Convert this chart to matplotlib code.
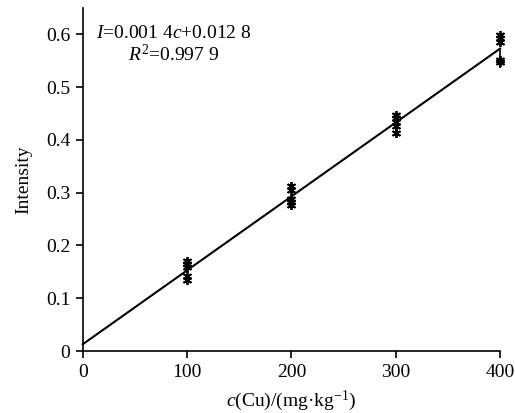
import numpy as np
import matplotlib
matplotlib.use("Agg")
import matplotlib.pyplot as plt

plt.rcParams['font.family'] = ['Liberation Serif', 'DejaVu Serif']
plt.rcParams['mathtext.fontset'] = 'custom'
plt.rcParams['mathtext.rm'] = 'Liberation Serif'
plt.rcParams['mathtext.it'] = 'Liberation Serif:italic'

concentrations = [100, 200, 300, 400]
intensity_100 = [0.170, 0.165, 0.160, 0.142, 0.135]
intensity_200 = [0.312, 0.305, 0.288, 0.282, 0.276]
intensity_300 = [0.448, 0.441, 0.434, 0.426, 0.413]
intensity_400 = [0.598, 0.592, 0.585, 0.552, 0.547]
slope = 0.0014
intercept = 0.0128
x_ticks = [0, 100, 200, 300, 400]
y_ticks = [0, 0.1, 0.2, 0.3, 0.4, 0.5, 0.6]
y_tick_labels = ["0", "0.1", "0.2", "0.3", "0.4", "0.5", "0.6"]

fig = plt.figure(figsize=(5.15, 4.13), dpi=100)
ax = fig.add_axes([0.1606, 0.150, 0.8104, 0.831])

groups = [intensity_100, intensity_200, intensity_300, intensity_400]
for c, vals in zip(concentrations, groups):
    ax.plot([c] * len(vals), vals, linestyle='none', marker=(6, 2, 0),
            markersize=6.5, markeredgewidth=1.3, color='black', clip_on=False)

xfit = np.array([0, 400])
ax.plot(xfit, slope * xfit + intercept, color='black', lw=1.5, clip_on=False)
ax.vlines(400, min(intensity_400) - 0.01, slope * 400 + intercept,
          color='black', lw=1.2, clip_on=False)

ax.set_xlim(0, 400)
ax.set_ylim(0, 0.65)
ax.set_xticks(x_ticks)
ax.set_yticks(y_ticks)
ax.set_yticklabels(y_tick_labels)
for s in ['top', 'right']:
    ax.spines[s].set_visible(False)
for s in ['left', 'bottom']:
    ax.spines[s].set_linewidth(1.2)
ax.tick_params(direction='out', length=5, width=1.2, labelsize=14, pad=4)

ax.set_xlabel(r"$\mathit{c}$(Cu)/(mg·kg$^{-1}$)", fontsize=14, labelpad=6)
ax.set_ylabel("Intensity", fontsize=14, labelpad=10)

ax.text(87, 0.602, r"$\mathit{I}$=0.001 4$\mathit{c}$+0.012 8", fontsize=14,
        ha='center', va='center')
ax.text(87, 0.561, r"$\mathit{R}^{2}$=0.997 9", fontsize=14,
        ha='center', va='center')

fig.savefig("out.png", dpi=100)
